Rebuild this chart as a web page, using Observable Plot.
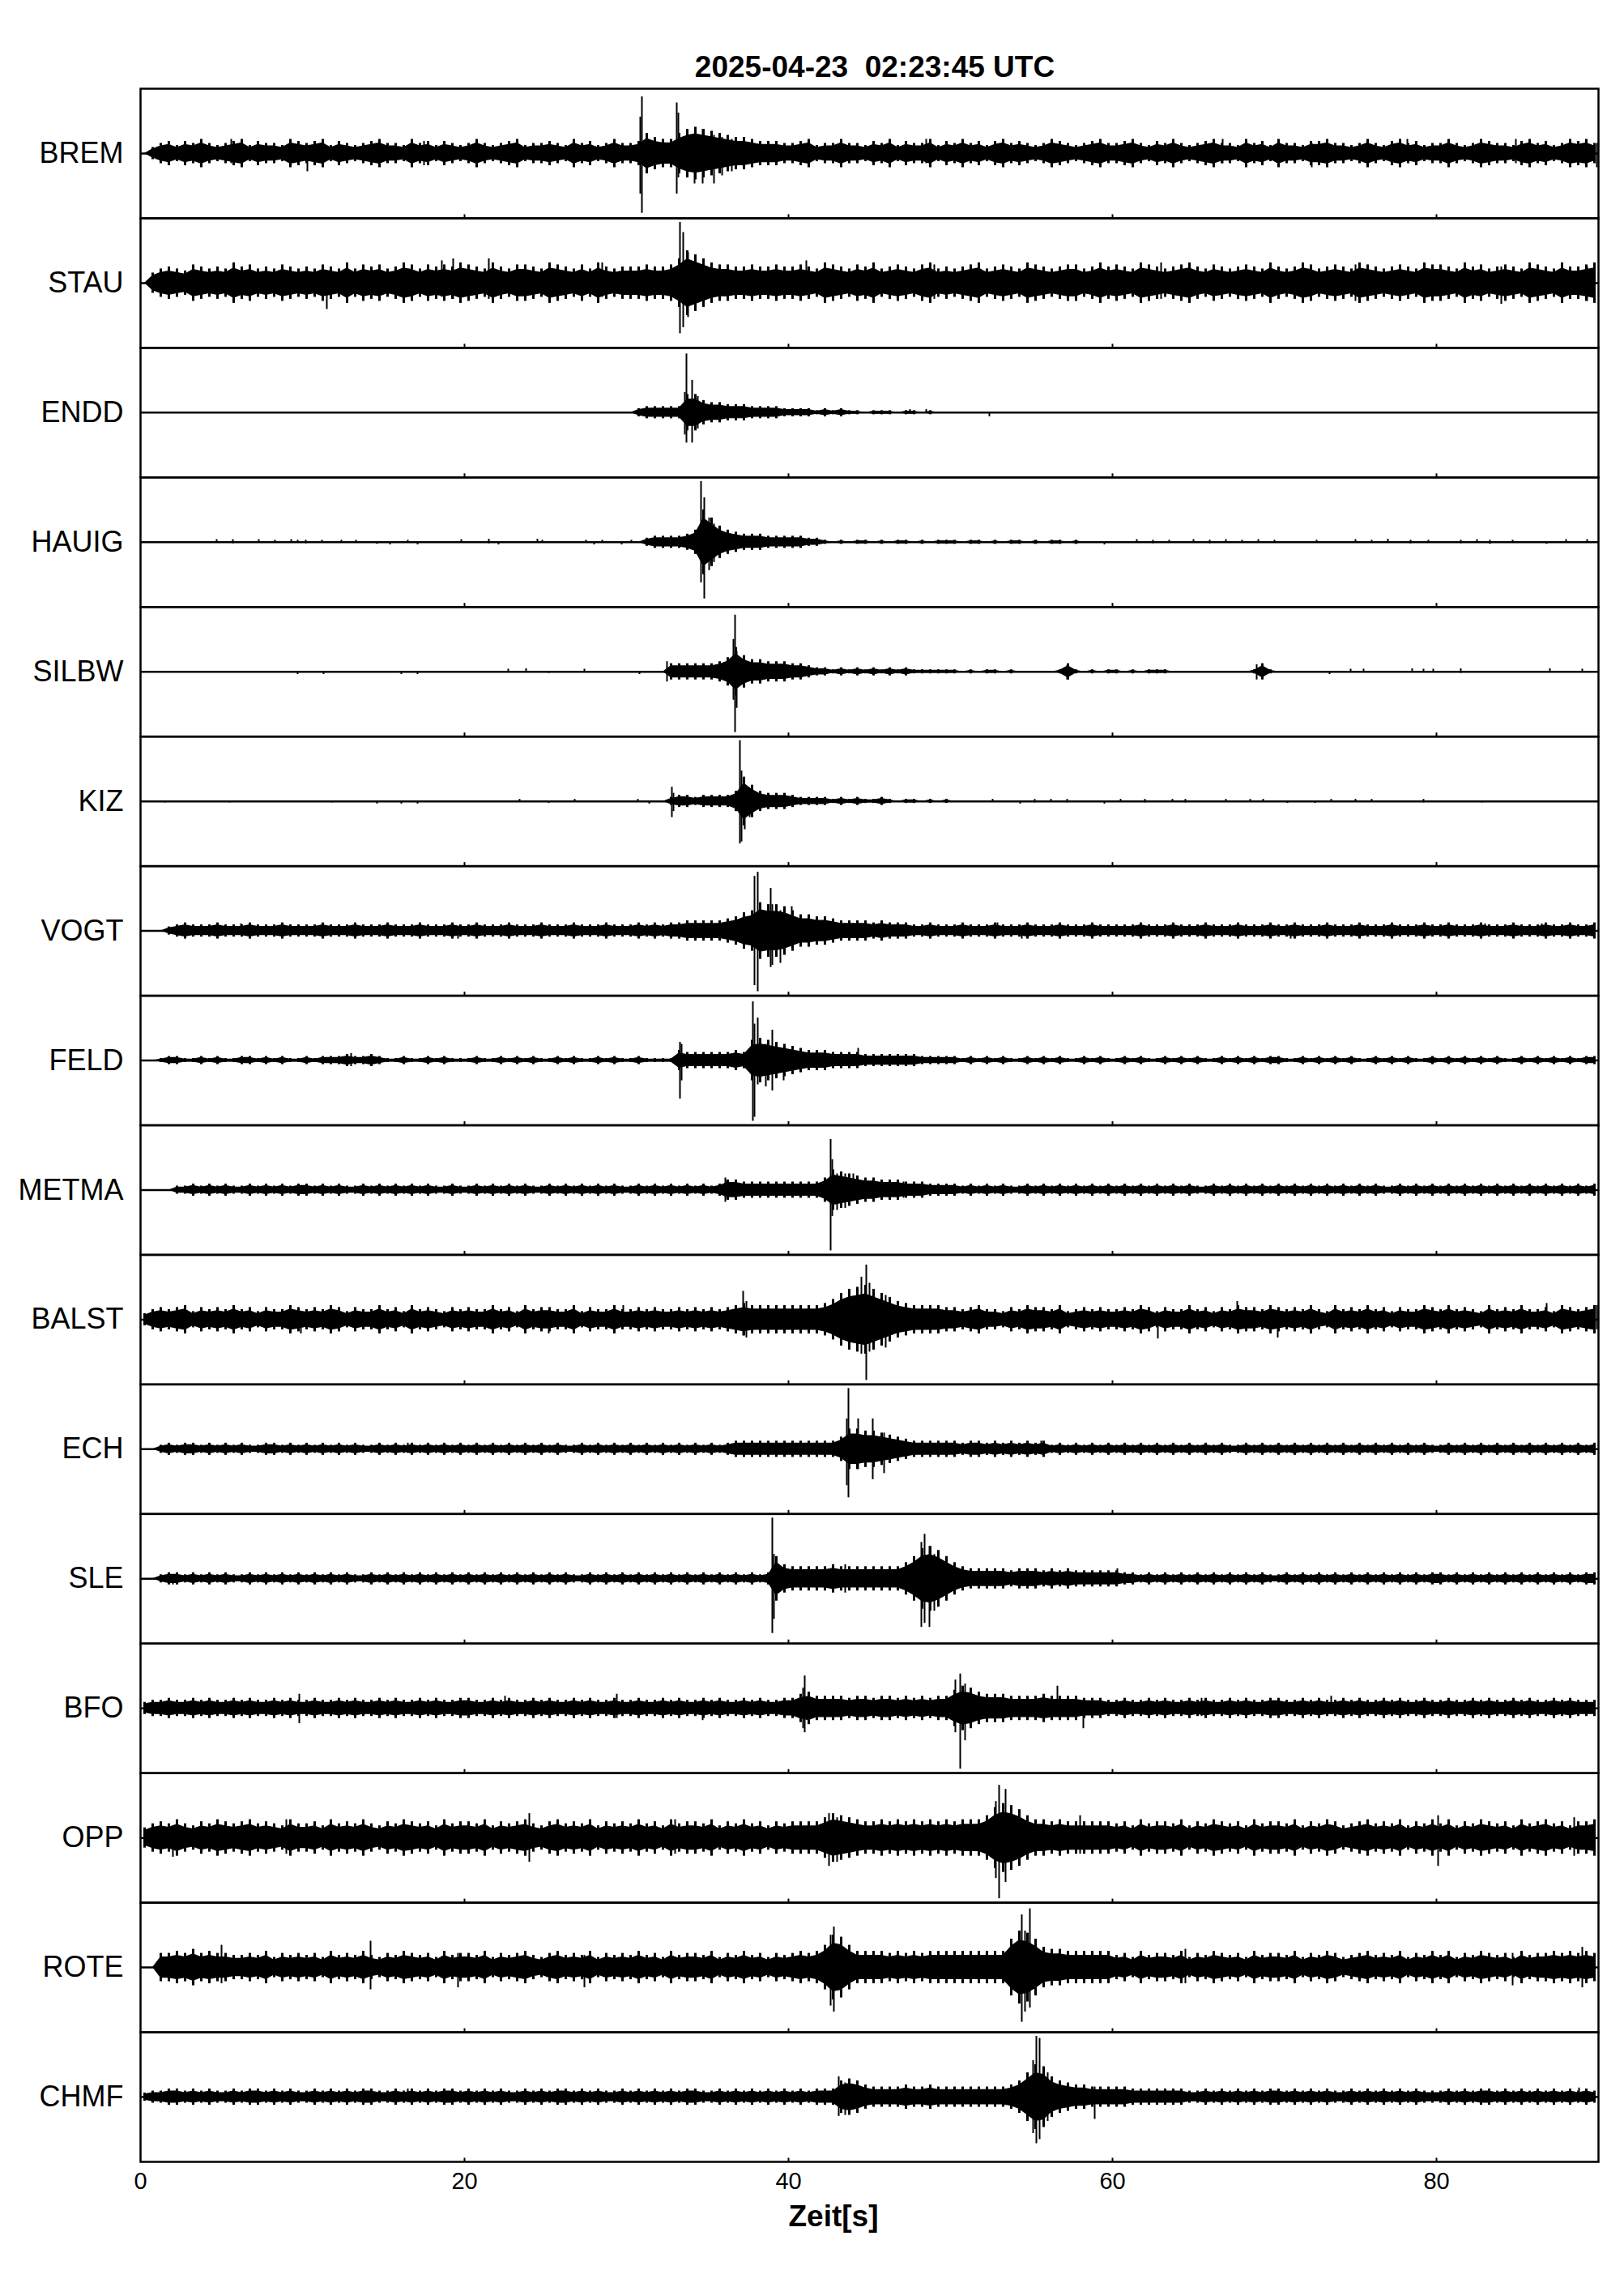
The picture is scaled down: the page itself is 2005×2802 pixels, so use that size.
<!DOCTYPE html>
<html><head><meta charset="utf-8">
<script src="https://cdn.jsdelivr.net/npm/d3@7"></script>
<script src="https://cdn.jsdelivr.net/npm/@observablehq/plot@0.6"></script>
<style>body{margin:0;background:#fff}</style>
</head><body><div id="chart"></div>
<script>
// ---- data ----
const titleText = "2025-04-23  02:23:45 UTC";
const xLabel = "Zeit[s]";
const stations = ["BREM","STAU","ENDD","HAUIG","SILBW","KIZ","VOGT","FELD","METMA","BALST","ECH","SLE","BFO","OPP","ROTE","CHMF"];
const xTicks = [0, 20, 40, 60, 80];
const innerTicks = [20, 40, 60, 80];
const binSeconds = 0.5; // one envelope sample per 0.5 s; each 20-char string = 10 s
// envelope half-amplitude per 0.5 s bin (base-36 digits, 1 unit = 1/32 of a trace's half-height)
const envBREM  = ["03564657545674655476","56746545675547564654","57545674556547564575","56a877acdcba98876665","56745575546574655746","57564675654576545675","56754657545675547564","75546675545754675645","57545765546756457675"];
const envSTAU  = ["05787698787a89787987","87987a798978a979898a","987a879987a98797a878","889889cgeca998898898","8987a98798a789879a78","789a78987a98789978a8","987a98789a879878987a","878a978987a9878987a9","987a8978987a987a889a"];
const envENDD  = ["00000000000000000000","00000000000000000000","00000000000000000000","02333339965544433332","22212121101110110100","00000000000000000000","00000000000000000000","00000000000000000000","00000000000000000000"];
const envHAUIG = ["00000000000000000000","00000000000000000000","00000000000000000000","002333346gc865444333","33221010110101101011","10110101101011010000","00000000000000000000","00000000000000000000","00000000000000000000"];
const envSILBW = ["00000000000000000000","00000000000000000000","00000000000000000000","0000044444457c866555","44322121212121211111","10101101000001410101","10101110000000000141","00000000000000000000","00000000000000000000"];
const envKIZ   = ["00000000000000000000","00000000000000000000","00000000000000000000","00000233233335c85444","32222121211210110101","00000000000000000000","00000000000000000000","00000000000000000000","00000000000000000000"];
const envVOGT  = ["00023433343334333433","33433343334333433343","34333433343334333433","343434455555679aeddc","a8877655554544433433","34333433343334333433","33343334333433343334","33433343334333433343","34333433343334334334"];
const envFELD  = ["00122112121122121211","21222322321121121211","12112121211212112121","121111544444454aba98","76555444433333332222","21212121121212112121","12121121212112121212","21121212121121212112","12121212112121212122"];
const envMETMA = ["00002232323223232323","32323223232323232232","23232323223232323232","23232323232355444444","44446a98766555444333","32323232232323232323","23232323232232323232","32323232323232232323","23232323232323232323"];
const envBALST = ["35656746565756465576","56576465575647565465","65575647566557465575","56565565656567877777","77778adfghfdb9877776","65675546576657456565","56576465575646576657","65657547565756465576","57565475657556476567"];
const envECH   = ["00232332323232233232","32323232232323232323","23232323232322323232","32323232323234444444","4444446aa99876544444","43443434343423232323","23232323232323223232","32323232323232323232","23232323232323232323"];
const envSLE   = ["00233232323223232323","23232322323232323232","32323232323232232323","232323232323232323b7","666667666666668bfgeb","86555554555454544444","43323232323232323232","23232323232323232323","32323232323232323233"];
const envBFO   = ["34454454544545445454","45445454454544545445","54454544545445454454","45445454454544545445","57866665665665656566","9ba87776666766665554","45445454454544545445","54454544545445454454","45445454454544545444"];
const envOPP   = ["57879768798789787697","78697879768798786978","87968789768978796878","79786978879687978687","8888acba988989898989","8999bfhgeb9989888888","78697887968798786978","87968798678978796879","79687987869789786889"];
const envROTE  = ["00778797877667685767","67586768657687675867","76857678657867685767","68675867768576867576","7878bgfb888878787888","8888888eihea99888888","67586776857687675867","76857687567867685768","68576876758677878787"];
const envCHMF  = ["23344343433434434343","34343434433434343443","43434334343443434334","34343434433434343434","34344489865555655655","555555568cgfa8766555","55444444433434343434","43434343343434343433","34343443434343434343"];
// individual peaks: [time s, up, down] in the same units
const spkBREM  = [[10.3,4,9],[30.85,18,20],[30.95,28,29.5],[33.1,25,20],[33.2,20,12],[34.2,9,15],[34.7,12,15],[35.4,9,15],[35.9,8,11],[36.5,7,9],[5.6,7,5],[17.5,6,6],[48.5,7,5],[66.8,7,5],[72.3,5,7],[78.2,7,4],[84.9,7,5],[89.9,5,7]];
const spkSTAU  = [[11.5,6,13],[18.6,11,7],[19.3,12,8],[21.5,12,8],[28.5,10,7],[33.3,30,25],[33.5,25,22],[33.8,15,17],[41.1,11,6],[49,9,8],[63,10,8],[75,9,9],[84.0,8,10.5],[89.3,8,9]];
const spkENDD  = [[33.6,10,11],[33.7,29,15],[34.05,16,15],[34.4,8,8],[47.5,1.5,0],[48.5,1.5,0],[52.4,0,2]];
const spkHAUIG = [[34.6,30,20],[34.8,22,28],[35.1,12,14],[35.4,9,10],[4.7,1.3,0],[5.7,1.3,0.7],[7.3,1.3,0],[8.3,1,0],[9.3,1.3,0.5],[9.7,1,0],[10.2,1,0.7],[11.2,1,0],[12.4,1,0],[13.3,1,0],[14.6,0,1],[15.4,0,1.3],[16.5,1,0],[17.1,0,1.3],[19.8,1.3,0],[21.5,1.5,0.7],[22.1,0,1.3],[24.5,1.5,0],[24.8,1,0],[27.5,1,0],[28,0,1.3],[28.5,1,0],[29.7,0,1.3],[30.3,1,0],[59.5,0,1.3],[61.5,1.3,0],[62.5,1,0.7],[63.5,1,0],[65,1.3,0],[66,1,0.7],[67,1.3,0],[68,1,0],[69,1.3,0.5],[70,1,0],[72.6,1,0],[75,1.3,0.5],[76,1,0],[77,1.5,0],[78.4,1,0.7],[79.5,1,0],[81.5,1,0.7],[82.5,1.3,0],[83.3,1,1],[84.7,1,0],[86.8,0,1],[88,1.3,0],[89.3,1.3,0]];
const spkSILBW = [[32.5,5,5],[36.6,16,14],[36.7,28,30],[36.8,10,18],[57.2,3,4],[68.9,3.5,4],[9.7,0,1.3],[11.3,0,1.3],[16.1,0,1.3],[17.1,0,1.3],[22.7,1.3,0],[23.8,1.5,0],[25.2,0,0.7],[27.4,1.3,0],[30.8,0,1.3],[73.4,0,1.3],[74.7,1.3,0],[75.5,1.3,0],[78.5,1.5,0],[79.2,1.3,0],[79.8,1.3,0],[81.5,1.5,0.7],[87,1.5,0],[89,1.3,0]];
const spkKIZ   = [[32.8,7,8],[32.9,4,5],[37.0,30,21],[37.1,15,20],[37.3,8,14],[37.6,6,8],[1.5,0,0.7],[5.5,0,0.7],[11.8,0,0.7],[14.6,0,1.3],[16.1,0,1.3],[17.1,0,1.3],[23.4,1,0],[25.2,0,1],[26.8,1,0],[30.7,1,0],[31.4,0,1.3],[52.6,1,0],[54.3,0,1.3],[55.2,1,0.7],[56.2,1,0],[57.2,1,0.7],[59.5,0,1.3],[60.5,1,0],[62,1,0.7],[63.7,1,0],[64.5,1,0.7],[67,1,0],[68.5,1,0],[69.3,1,0],[70.8,0,1],[72.5,0,1],[73.5,1,0],[75,1,0],[76,1,0],[79.2,1,0.7],[82.8,0,0.7]];
const spkVOGT  = [[37.9,27,27],[38.1,29,30],[38.9,21,18],[39.0,13,17],[39.5,10,16],[40.2,12,8],[6.2,3.5,2],[19.6,2,4],[52.9,4,2],[54.4,2,4],[71,2,4],[83,3.5,2],[86.5,3.5,2]];
const spkFELD  = [[33.3,9,19],[33.4,8,10],[37.8,29,30],[37.9,18,28],[38.1,21,12],[38.6,8,13],[39.0,15,15],[39.7,6,10],[13,3.5,3],[44.3,6,3]];
const spkMETMA = [[36.1,6,6],[36.2,5,4],[42.6,25,30],[42.7,15,13],[43.0,8,10],[43.5,8,9],[44.0,8,5],[47.1,4,4]];
const spkBALST = [[9.9,4,7],[25.2,4,7],[29.8,7,3],[37.2,14,8],[37.4,9,9],[44.5,21,17],[44.8,27,30],[45.0,18,16],[46.0,12,14],[62.8,3,9.5],[67.7,9,4],[70.2,3,9],[86.8,8,4],[89.9,7,5]];
const spkECH   = [[43.6,15,18],[43.7,30,24],[44.3,15,10],[45.2,15,15],[45.9,8,12],[55.6,4,2],[16.5,3,2]];
const spkSLE   = [[39.0,30,27],[39.1,12,20],[43.5,7,7],[48.2,18,24],[48.4,22,22],[48.7,16,24],[49.0,12,16],[60.3,5,3],[2,2,3]];
const spkBFO   = [[9.8,7,7.5],[22.5,6,3],[29.4,7,5],[34.7,3,6],[40.9,10,10],[41.0,16,12],[50.3,14,12],[50.6,17,30],[50.9,12,16],[56.6,11,4],[58.2,4,10],[65.5,5,4],[73.5,6,3]];
const spkOPP   = [[2.0,3,9.5],[9,9,8],[24.0,12,12],[33,9,8],[42.5,12,14],[43.0,10,12],[52.8,18,20],[53.0,26,30],[53.4,24,22],[58.0,11,8],[80.1,11,14],[88.5,10,9]];
const spkROTE  = [[5.0,11,8],[14.2,13,11],[19.6,7,10],[27.4,6,10],[42.6,16,19],[42.8,20,22],[54.4,26,27],[54.6,18,22],[54.9,29,20],[64.5,9,8],[84.7,7,9],[89,10,10]];
const spkCHMF  = [[16.5,4,2],[43.1,10,9.5],[43.5,7,9],[55.1,18,18],[55.3,30,23],[55.5,29,21],[56.0,12,12],[58.9,5,11],[88.8,4.5,2]];

// ---- tables for Plot ----
const envByStation = {BREM:envBREM,STAU:envSTAU,ENDD:envENDD,HAUIG:envHAUIG,SILBW:envSILBW,KIZ:envKIZ,VOGT:envVOGT,FELD:envFELD,METMA:envMETMA,BALST:envBALST,ECH:envECH,SLE:envSLE,BFO:envBFO,OPP:envOPP,ROTE:envROTE,CHMF:envCHMF};
const spkByStation = {BREM:spkBREM,STAU:spkSTAU,ENDD:spkENDD,HAUIG:spkHAUIG,SILBW:spkSILBW,KIZ:spkKIZ,VOGT:spkVOGT,FELD:spkFELD,METMA:spkMETMA,BALST:spkBALST,ECH:spkECH,SLE:spkSLE,BFO:spkBFO,OPP:spkOPP,ROTE:spkROTE,CHMF:spkCHMF};
const envRows = [], spikeRows = [];
for (const s of stations) {
  const vals = envByStation[s].join("").split("").map(c => parseInt(c, 36));
  if (vals.length !== 180) console.warn(s, vals.length);
  vals.forEach((a, i) => envRows.push({station: s, t: i * binSeconds + binSeconds / 2, a}));
  for (const [t, up, dn] of spkByStation[s]) spikeRows.push({station: s, t, up, dn});
}
const hairRows = envRows.filter(d => d.a > 0);
const core = 0.75; // solid core drawn at 75% of each bin's envelope, hairs to the full value

const font = "Liberation Sans, Arial, Helvetica, sans-serif";
const plot = Plot.plot({
  width: 2005, height: 2802,
  marginLeft: 173, marginRight: 32, marginTop: 109, marginBottom: 134,
  style: {fontFamily: font, background: "white", color: "black"},
  x: {domain: [0, 90]},
  y: {domain: [-32, 32], axis: null},
  fy: {domain: stations, padding: 0, round: false},
  marks: [
    Plot.ruleY([0], {stroke: "black", strokeWidth: 2.5}),
    Plot.areaY(envRows, {x: "t", y1: d => -core * d.a, y2: d => core * d.a, fy: "station", fill: "black", curve: "linear"}),
    Plot.ruleX(hairRows, {x: "t", y1: d => -d.a, y2: d => d.a, fy: "station", stroke: "black", strokeWidth: 3}),
    Plot.ruleX(spikeRows, {x: "t", y1: d => -d.dn, y2: d => d.up, fy: "station", stroke: "black", strokeWidth: 2}),
    Plot.ruleX(innerTicks, {y1: -32, y2: -30.2, stroke: "black", strokeWidth: 2}),
    Plot.frame({stroke: "black", strokeWidth: 2.5}),
    Plot.axisX({ticks: xTicks, tickSize: 0, tickPadding: 13, fontSize: 29, label: null}),
    Plot.axisFy({anchor: "left", tickSize: 0, tickPadding: 21, fontSize: 36, label: null})
  ]
});
const svg = d3.select(plot);
svg.append("text").attr("x", 1080).attr("y", 95).attr("text-anchor", "middle")
  .attr("font-weight", "bold").attr("font-size", 37).attr("font-family", font)
  .style("white-space", "pre").attr("xml:space", "preserve").text(titleText);
svg.append("text").attr("x", 1029).attr("y", 2748).attr("text-anchor", "middle")
  .attr("font-weight", "bold").attr("font-size", 37).attr("font-family", font).text(xLabel);
document.getElementById("chart").appendChild(plot);
</script></body></html>
